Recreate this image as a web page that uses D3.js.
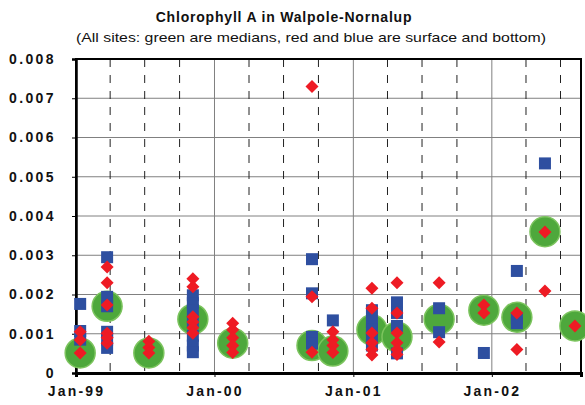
<!DOCTYPE html>
<html>
<head>
<meta charset="utf-8">
<script src="https://cdn.jsdelivr.net/npm/d3@7"></script>
<style>
  html, body { margin: 0; padding: 0; background: #fff; }
  svg { display: block; }
</style>
</head>
<body>
<svg id="chart" width="585" height="405"></svg>
<script>
// Sampling dates (one entry per survey)
const sampleDates = [
  "1999-01-12", "1999-03-24", "1999-07-12", "1999-11-05", "2000-02-18",
  "2000-09-14", "2000-11-08", "2001-02-19", "2001-04-26", "2001-08-15",
  "2001-12-11", "2002-03-08", "2002-05-21", "2002-08-08"
];

// Median of all sites for each survey
const medianValues = [
  0.00051, 0.0017, 0.00051, 0.00137, 0.00076,
  0.0007, 0.00056, 0.0011, 0.00092, 0.00137,
  0.0016, 0.00142, 0.0036, 0.0012
];

// Surface samples per survey
const surfaceValues = [
  [0.00105, 0.00084, 0.00051],
  [0.0027, 0.0023, 0.00173, 0.00101, 0.00076, 0.0009],
  [0.00081, 0.00065, 0.00051],
  [0.0024, 0.0022, 0.00143, 0.0013, 0.00115, 0.00101],
  [0.00127, 0.0011, 0.0009, 0.0007, 0.00052],
  [0.0073, 0.00194, 0.00053],
  [0.00105, 0.00085, 0.0007, 0.00052],
  [0.00216, 0.00165, 0.00102, 0.00077, 0.0006, 0.00046],
  [0.0023, 0.00153, 0.00102, 0.00077, 0.0006, 0.00047],
  [0.0023, 0.00079],
  [0.00173, 0.00153],
  [0.00153, 0.0006],
  [0.00359, 0.00209],
  [0.0012]
];

// Bottom samples per survey
const bottomValues = [
  [0.00176, 0.00107, 0.00085],
  [0.00295, 0.00194, 0.0017, 0.00105, 0.00085, 0.00064],
  [],
  [0.00198, 0.00178, 0.0016, 0.0013, 0.00095, 0.0007, 0.00053],
  [],
  [0.0029, 0.00203, 0.00092, 0.00075],
  [0.00134],
  [0.0016, 0.0013, 0.0011, 0.0009, 0.0007],
  [0.0018, 0.00153, 0.0012, 0.0005],
  [0.00165, 0.00104],
  [0.00051],
  [0.0026, 0.0014, 0.00127],
  [0.00534],
  []
];

const yTicks = [0, 0.001, 0.002, 0.003, 0.004, 0.005, 0.006, 0.007, 0.008];
const yTickLabels = ["0", "0.001", "0.002", "0.003", "0.004", "0.005", "0.006", "0.007", "0.008"];
const xTickDates = ["1999-01-01", "2000-01-01", "2001-01-01", "2002-01-01"];
const xTickLabels = ["Jan-99", "Jan-00", "Jan-01", "Jan-02"];
const xDomain = ["1999-01-01", "2002-08-24"];

const titleText = "Chlorophyll A in Walpole-Nornalup";
const subtitleText = "(All sites: green are medians, red and blue are surface and bottom)";

const parse = d3.utcParse("%Y-%m-%d");
const svg = d3.select("#chart");

const margin = { left: 76, right: 4, top: 59, bottom: 32 };
const W = 585, H = 405;
const x = d3.scaleUtc()
  .domain(xDomain.map(parse))
  .range([margin.left, W - margin.right]);
const y = d3.scaleLinear()
  .domain([0, 0.008])
  .range([H - margin.bottom, margin.top]);

const font = "Liberation Sans, Arial, Helvetica, sans-serif";

// Titles
svg.append("text")
  .attr("x", 284).attr("y", 22)
  .attr("text-anchor", "middle")
  .attr("font-family", font).attr("font-weight", "bold")
  .attr("font-size", 14).attr("letter-spacing", 0.8)
  .attr("fill", "#111")
  .text(titleText);

svg.append("text")
  .attr("x", 311).attr("y", 42)
  .attr("text-anchor", "middle")
  .attr("font-family", font)
  .attr("font-size", 13.5)
  .attr("fill", "#111")
  .attr("textLength", 470).attr("lengthAdjust", "spacingAndGlyphs")
  .text(subtitleText);

// Horizontal gridlines
svg.append("g")
  .selectAll("line")
  .data(yTicks.slice(1, -1))
  .join("line")
  .attr("x1", margin.left).attr("x2", W - margin.right)
  .attr("y1", d => y(d)).attr("y2", d => y(d))
  .attr("stroke", "#808080").attr("stroke-width", 1);

// Quarterly dashed gridlines
const quarters = d3.utcMonth.every(3).range(x.domain()[0], x.domain()[1])
  .filter(d => d.getUTCMonth() !== 0);
svg.append("g")
  .selectAll("line")
  .data(quarters)
  .join("line")
  .attr("x1", d => x(d)).attr("x2", d => x(d))
  .attr("y1", margin.top).attr("y2", H - margin.bottom)
  .attr("stroke", "#222").attr("stroke-width", 1)
  .attr("stroke-dasharray", "8,8");

// Yearly solid gridlines
svg.append("g")
  .selectAll("line")
  .data(xTickDates.slice(1).map(parse))
  .join("line")
  .attr("x1", d => x(d)).attr("x2", d => x(d))
  .attr("y1", margin.top).attr("y2", H - margin.bottom)
  .attr("stroke", "#808080").attr("stroke-width", 1);

// Plot frame
svg.append("rect")
  .attr("x", margin.left).attr("y", margin.top)
  .attr("width", W - margin.right - margin.left)
  .attr("height", H - margin.bottom - margin.top)
  .attr("fill", "none").attr("stroke", "#000").attr("stroke-width", 2);

// Y axis
const yAxis = svg.append("g")
  .attr("transform", `translate(${margin.left},0)`)
  .call(d3.axisLeft(y).tickValues(yTicks)
    .tickFormat((d, i) => yTickLabels[i]).tickSize(4).tickPadding(16));
yAxis.select(".domain").attr("stroke", "#000").attr("stroke-width", 2.5);
yAxis.selectAll("text")
  .attr("font-family", font).attr("font-weight", "bold")
  .attr("font-size", 14).attr("letter-spacing", 2.4).attr("fill", "#111");

// X axis
const xAxis = svg.append("g")
  .attr("transform", `translate(0,${H - margin.bottom})`)
  .call(d3.axisBottom(x).tickValues(xTickDates.map(parse))
    .tickFormat((d, i) => xTickLabels[i]).tickSize(4).tickPadding(9));
xAxis.select(".domain").attr("stroke", "#000").attr("stroke-width", 3);
xAxis.selectAll("text")
  .attr("font-family", font).attr("font-weight", "bold")
  .attr("font-size", 14).attr("letter-spacing", 2.2).attr("fill", "#111");

// Flatten per-survey samples into points
const toPoints = arr => arr.flatMap((vals, i) =>
  vals.map(v => ({ date: parse(sampleDates[i]), value: v })));
const medians = sampleDates.map((d, i) => ({ date: parse(d), value: medianValues[i] }));
const bottoms = toPoints(bottomValues);
const surfaces = toPoints(surfaceValues);

// Medians: large green discs
svg.append("g")
  .selectAll("circle")
  .data(medians)
  .join("circle")
  .attr("cx", d => x(d.date)).attr("cy", d => y(d.value))
  .attr("r", 15)
  .attr("fill", "#4ea83c")
  .attr("stroke", "#7cc45e").attr("stroke-width", 1.5);

// Bottom: blue squares
const sq = 12;
svg.append("g")
  .selectAll("rect")
  .data(bottoms)
  .join("rect")
  .attr("x", d => x(d.date) - sq / 2).attr("y", d => y(d.value) - sq / 2)
  .attr("width", sq).attr("height", sq)
  .attr("fill", "#2e4fa0");

// Surface: red diamonds
const dm = 6.5;
svg.append("g")
  .selectAll("path")
  .data(surfaces)
  .join("path")
  .attr("transform", d => `translate(${x(d.date)},${y(d.value)})`)
  .attr("d", `M0,${-dm}L${dm},0L0,${dm}L${-dm},0Z`)
  .attr("fill", "#ee1b24");
</script>
</body>
</html>
